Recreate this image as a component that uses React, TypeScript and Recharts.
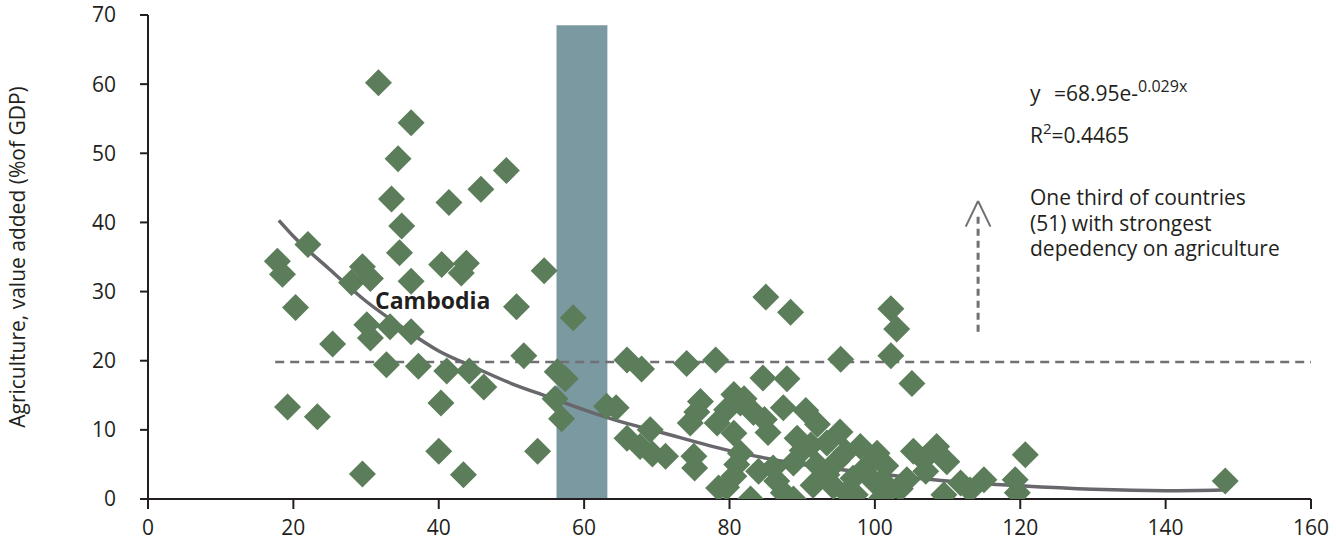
import React from 'react';
import { ComposedChart, Scatter, Line, XAxis, YAxis, ReferenceArea, ReferenceLine } from 'recharts';

const FONT = '"Open Sans", "Noto Sans", sans-serif';
const INK = '#231f20';

const xTicks = [0, 20, 40, 60, 80, 100, 120, 140, 160];
const yTicks = [0, 10, 20, 30, 40, 50, 60, 70];

// [x, agriculture share of GDP] per country
const countries: [number, number][] = [
  [17.8, 34.4], [18.5, 32.5], [20.3, 27.7], [19.2, 13.3], [22.0, 36.8], [23.3, 11.9],
  [25.4, 22.4], [28.0, 31.3], [29.5, 33.6], [29.5, 3.6], [30.6, 31.9], [30.1, 25.2],
  [30.6, 23.3], [31.7, 60.2], [33.5, 43.4], [32.8, 19.4], [33.3, 24.9], [34.4, 49.2],
  [34.9, 39.5], [34.6, 35.6], [36.2, 24.2], [36.2, 31.5], [36.2, 54.4], [37.2, 19.2],
  [40.4, 33.9], [40.3, 13.9], [40.0, 6.9], [41.1, 18.5], [41.4, 42.9], [43.4, 3.5],
  [43.8, 34.1], [43.1, 32.7], [44.2, 18.5], [46.2, 16.2], [45.8, 44.8], [49.3, 47.5],
  [50.7, 27.8], [51.7, 20.7], [53.6, 6.9], [54.5, 33.0], [56.3, 18.4], [57.4, 17.4],
  [56.0, 14.5], [56.9, 11.6], [58.5, 26.2], [63.1, 13.4], [64.4, 13.2], [65.9, 20.1],
  [67.9, 18.8], [65.9, 8.8], [67.7, 7.6], [69.1, 10.0], [69.4, 6.5], [71.2, 6.2],
  [74.1, 19.6], [78.1, 20.1], [75.1, 6.2], [75.2, 4.5], [76.0, 14.1], [74.6, 11.0],
  [75.5, 12.6], [78.5, 1.6], [85.0, 29.2], [88.4, 27.0], [95.3, 20.2], [84.6, 17.5],
  [87.9, 17.4], [80.6, 15.1], [81.5, 13.9], [79.6, 12.9], [78.3, 11.0], [80.6, 9.5],
  [83.3, 12.5], [84.8, 11.5], [85.3, 9.6], [87.4, 13.2], [90.5, 12.8], [92.1, 10.8],
  [95.2, 9.7], [89.3, 8.8], [90.0, 7.0], [91.2, 7.8], [88.8, 5.2], [93.4, 8.1],
  [98.0, 7.6], [100.3, 6.6], [81.5, 6.6], [81.0, 5.0], [80.6, 3.3], [79.6, 1.7],
  [82.9, 0.0], [86.5, 2.6], [87.4, 0.9], [88.8, 0.0], [93.4, 3.5], [94.3, 1.8],
  [96.1, 0.9], [98.9, 4.7], [99.8, 2.6], [97.3, 0.6], [100.8, 0.0], [102.2, 27.5],
  [103.0, 24.6], [102.2, 20.7], [105.1, 16.7], [105.3, 6.9], [108.5, 7.6], [106.7, 5.7],
  [109.9, 5.4], [104.4, 2.8], [101.0, 2.6], [101.2, 0.4], [109.5, 0.6], [111.8, 2.3],
  [115.0, 2.8], [113.1, 1.3], [120.7, 6.4], [119.3, 2.8], [119.6, 0.9], [148.2, 2.6],
  [92.0, 5.0], [94.8, 5.5], [97.0, 3.0], [91.5, 2.0], [84.0, 4.0], [101.5, 4.8],
  [107.0, 4.0], [103.5, 1.5], [96.0, 6.8], [82.0, 14.5], [86.0, 4.5],
];

// fitted curve y = 68.95e^-0.029x, as drawn
const trendX = [18, 20, 25, 30, 35, 40, 45, 50, 55, 60, 65, 70, 80, 90, 100, 110, 120, 130, 140, 148];
const trendY = [40.3, 38.0, 33.2, 28.6, 24.8, 21.4, 19.0, 16.7, 14.8, 12.9, 11.2, 9.8, 7.0, 5.0, 3.7, 2.6, 1.9, 1.4, 1.2, 1.3];

const noteLines = ['One third of countries', '(51) with strongest', 'depedency on agriculture'];

const scatterData = countries.map(([x, y]) => ({ x, y }));
const trendData = trendX.map((x, i) => ({ x, y: trendY[i] }));

function Diamond(props: any) {
  const { cx, cy } = props;
  const r = 13.5;
  return (
    <polygon
      points={`${cx},${cy - r} ${cx + r},${cy} ${cx},${cy + r} ${cx - r},${cy}`}
      fill="#5c7d5a"
    />
  );
}

function YTitle(props: any) {
  const { viewBox } = props;
  const cy = viewBox.y + viewBox.height / 2;
  return (
    <text x={25} y={cy} transform={`rotate(-90, 25, ${cy})`} textAnchor="middle" fontFamily={FONT} fontSize={21} fill={INK}>
      Agriculture, value added (%of GDP)
    </text>
  );
}

export default function App() {
  const tickStyle = { fontFamily: FONT, fontSize: 21, fill: INK };
  return (
    <div style={{ position: 'relative', width: 1336, height: 542, background: '#fff' }}>
      <style>{'body{margin:0}'}</style>
      <ComposedChart width={1336} height={542} margin={{ top: 15, right: 25, bottom: 0, left: 0 }}>
        <XAxis
          type="number"
          dataKey="x"
          domain={[0, 160]}
          ticks={xTicks}
          allowDataOverflow
          height={43}
          tickSize={10}
          tickMargin={11}
          tick={tickStyle}
          stroke={INK}
          strokeWidth={2}
          tickLine={{ stroke: INK, strokeWidth: 2 }}
        />
        <YAxis
          type="number"
          dataKey="y"
          domain={[0, 70]}
          ticks={yTicks}
          allowDataOverflow
          width={148}
          tickSize={8}
          tickMargin={24}
          tick={tickStyle}
          stroke={INK}
          strokeWidth={2}
          tickLine={{ stroke: INK, strokeWidth: 2 }}
          label={<YTitle />}
        />
        <ReferenceArea x1={56.2} x2={63.2} y1={0} y2={68.5} fill="#7b99a1" fillOpacity={1} stroke="none" />
        <ReferenceLine
          segment={[{ x: 17.5, y: 19.8 }, { x: 160, y: 19.8 }]}
          stroke="#707075"
          strokeWidth={2.5}
          strokeDasharray="9 6"
        />
        <ReferenceLine
          segment={[{ x: 114.2, y: 24.2 }, { x: 114.2, y: 41.5 }]}
          stroke="#707075"
          strokeWidth={3}
          strokeDasharray="7 5"
        />
        <ReferenceLine segment={[{ x: 112.5, y: 39.4 }, { x: 114.2, y: 43.1 }]} stroke="#707075" strokeWidth={2} />
        <ReferenceLine segment={[{ x: 114.2, y: 43.1 }, { x: 115.9, y: 39.4 }]} stroke="#707075" strokeWidth={2} />
        <Scatter data={scatterData} dataKey="y" shape={<Diamond />} isAnimationActive={false} />
        <Line
          data={trendData}
          dataKey="y"
          type="monotone"
          stroke="#67676c"
          strokeWidth={3.5}
          dot={false}
          activeDot={false}
          isAnimationActive={false}
        />
      </ComposedChart>
      <svg width={1336} height={542} style={{ position: 'absolute', left: 0, top: 0, pointerEvents: 'none' }}>
        <g fontFamily={FONT} fill={INK} fontSize={21}>
          <text x={375} y={309} fontWeight="bold" fontSize={23}>Cambodia</text>
          <text x={1030} y={101}>
            y<tspan x={1054}>=68.95e-</tspan><tspan fontSize={16} dy={-9}>0.029x</tspan>
          </text>
          <text x={1030} y={143}>
            R<tspan fontSize={15} dy={-9}>2</tspan><tspan dy={9}>=0.4465</tspan>
          </text>
          <text x={1030} y={205}>
            {noteLines.map((line, i) => (
              <tspan key={line} x={1030} dy={i === 0 ? 0 : 25.5}>{line}</tspan>
            ))}
          </text>
        </g>
      </svg>
    </div>
  );
}
